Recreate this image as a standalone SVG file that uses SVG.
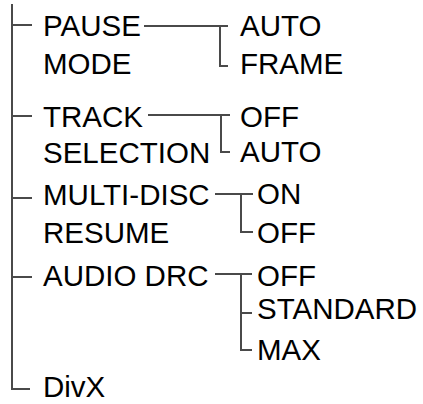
<svg xmlns="http://www.w3.org/2000/svg" width="423" height="404" viewBox="0 0 423 404">
<style>
text{font-family:"Liberation Sans",Arial,sans-serif;font-size:29.5px;fill:#000}
.c{fill:none;stroke:#4a4a4a;stroke-width:2}
</style>
<rect width="423" height="404" fill="#fff"/>
<g id="connectors">
<path class="c" d="M12 4V389H30M12 25H32M12 116H32M12 198H32M12 277H32"/>
<path class="c" d="M144 26H228M220 26V66H228"/>
<path class="c" d="M148 115H230M221 115V152H230"/>
<path class="c" d="M215 194H253M241 194V232H253"/>
<path class="c" d="M215 274H252M241 274V350H252M241 313H252"/>
</g>
<g id="pause-mode"><text x="43" y="36">PAUSE</text><text x="43" y="74">MODE</text></g>
<g id="pause-auto"><text x="240" y="36">AUTO</text></g>
<g id="pause-frame"><text x="240" y="74">FRAME</text></g>
<g id="track-selection"><text x="43" y="127">TRACK</text><text x="43" y="163">SELECTION</text></g>
<g id="track-off"><text x="240" y="127">OFF</text></g>
<g id="track-auto"><text x="240" y="162">AUTO</text></g>
<g id="multi-disc-resume"><text x="43" y="205">MULTI-DISC</text><text x="43" y="243">RESUME</text></g>
<g id="multi-on"><text x="257" y="204">ON</text></g>
<g id="multi-off"><text x="257" y="243">OFF</text></g>
<g id="audio-drc"><text x="43" y="286">AUDIO DRC</text></g>
<g id="drc-off"><text x="257" y="286">OFF</text></g>
<g id="drc-standard"><text x="257" y="319">STANDARD</text></g>
<g id="drc-max"><text x="257" y="360">MAX</text></g>
<g id="divx"><text x="43" y="397">DivX</text></g>
</svg>
